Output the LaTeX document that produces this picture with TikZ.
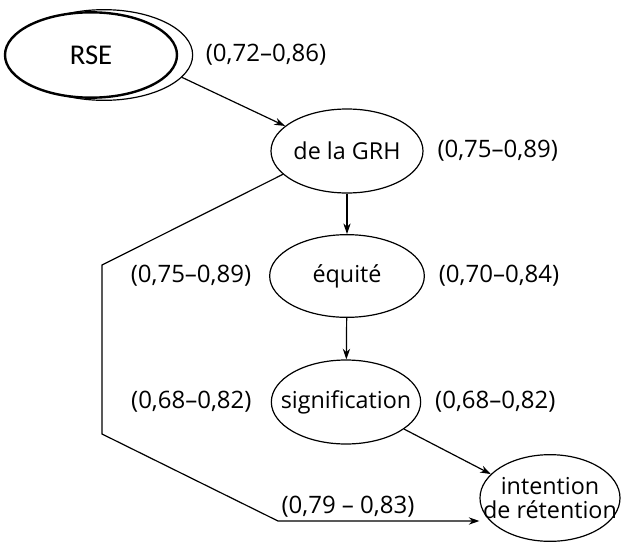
\documentclass[tikz,border=0pt]{standalone}
\usepackage{fontspec}
\setmainfont{Open Sans}
\newfontfamily\rsefont{Carlito}
\usetikzlibrary{positioning,arrows.meta,shapes.geometric}

\begin{document}
\begin{tikzpicture}[
    x=0.75pt, y=-0.75pt,
    node distance=10pt,
    line width=0.9pt,
    latent/.style={draw, ellipse, inner xsep=-20pt, inner ysep=0pt, align=center, minimum width=114pt, minimum height=63pt, font=\fontsize{17.5}{18}\selectfont},
    coef/.style={inner sep=0pt, font=\fontsize{18}{18}\selectfont},
    >={Stealth[length=8pt, width=5.5pt]}
]
\useasboundingbox (0,0) rectangle (622,543);

% RSE with its shadow ellipse
\node[draw, ellipse, minimum width=133pt, minimum height=68pt] (rseback) at (104,55) {};
\node[draw, ellipse, line width=1.8pt, fill=white, minimum width=129pt, minimum height=64pt, font=\rsefont\fontsize{21.5}{22}\selectfont] (rse) at (91,55) {RSE};
\node[coef, right=9pt of rseback] (crse) {(0,72–0,86)};

\node[latent] (grh) at (347,151) {de la GRH};
\node[latent, minimum width=116pt, minimum height=62pt] (equ) at (347,276) {équité};
\node[latent, minimum width=112pt] (sig) at (346,402) {signification};
\node[latent, minimum width=105pt, minimum height=65pt] (ret) at (550,498) {intention\\de rétention};

\node[coef, right=10pt of grh] (cgrh) {(0,75–0,89)};
\node[coef, right=10pt of equ] (cequ) {(0,70–0,84)};
\node[coef, left=13pt of equ] (cdir) {(0,75–0,89)};
\node[coef, right=10pt of sig] (csig) {(0,68–0,82)};
\node[coef, left=14pt of sig] (csig2) {(0,68–0,82)};
\node[coef] (cret) at (348,507) {(0,79 – 0,83)};

\coordinate (k1) at (102,265);
\coordinate (k2) at (102,434);
\coordinate (k3) at (278,521);

\draw[->] (rseback.-16) -- (grh.158);
\draw[->] (grh) -- (equ);
\draw[->] (equ) -- (sig);
\draw[->] (sig.-25) -- (ret.158);
\draw[->] (grh.200) -- (k1) -- (k2) -- (k3) -- (k3 -| ret.west);
\end{tikzpicture}
\end{document}
